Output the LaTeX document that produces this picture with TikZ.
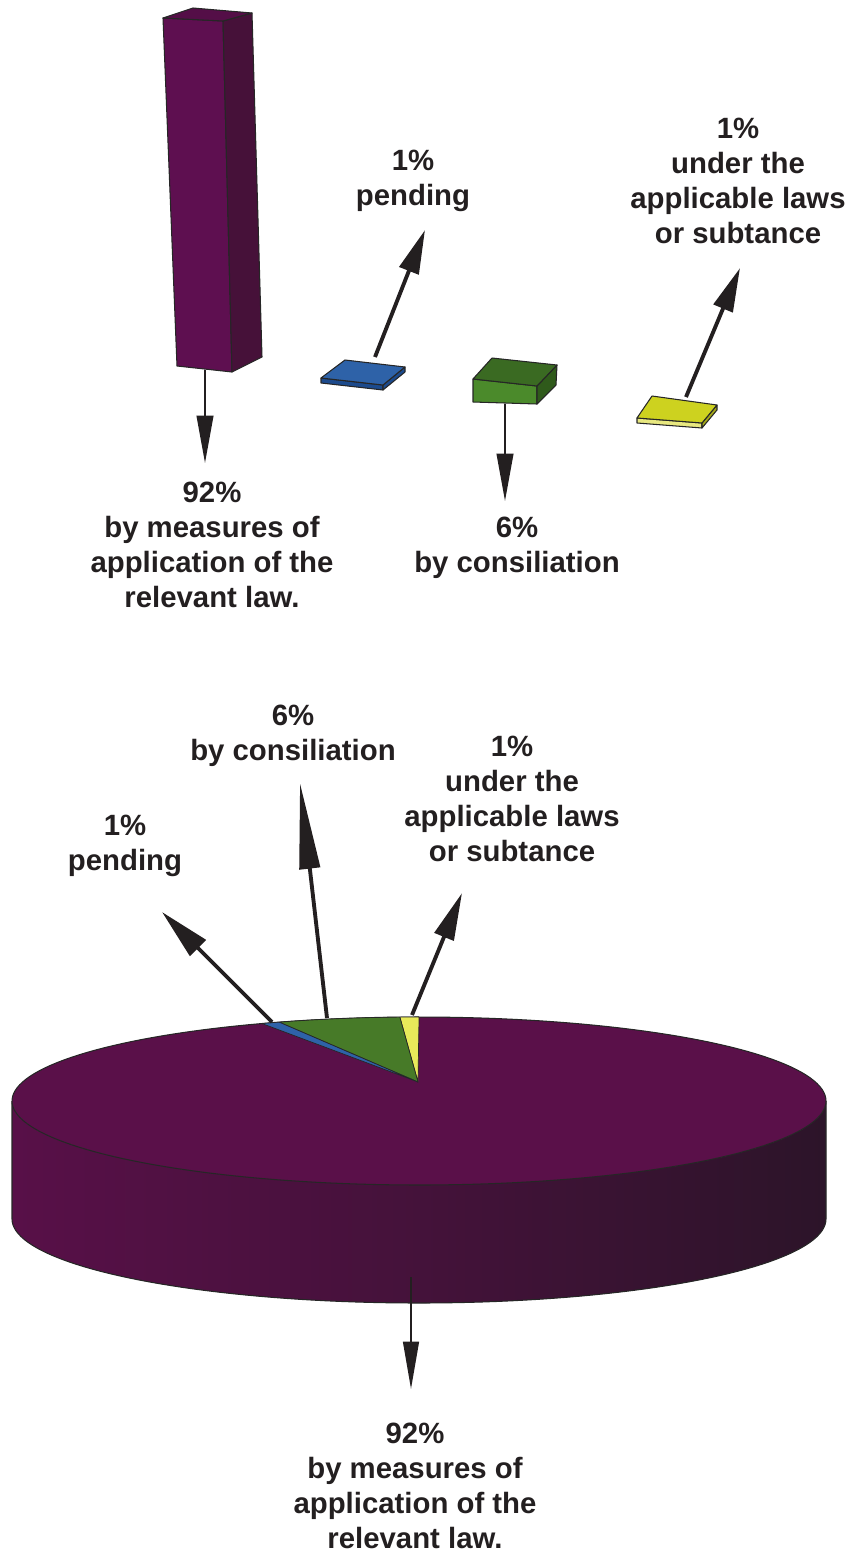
\documentclass[tikz,border=0pt]{standalone}
\usepackage{fontspec}
\setmainfont{Liberation Sans}
\usetikzlibrary{arrows.meta}
\definecolor{barfront}{RGB}{94, 15, 80}
\definecolor{barside}{RGB}{70, 17, 57}
\definecolor{bartop}{RGB}{84, 14, 71}
\definecolor{pietop}{RGB}{90, 16, 73}
\definecolor{pieleft}{RGB}{88, 16, 72}
\definecolor{pieright}{RGB}{44, 20, 41}
\definecolor{bluetop}{RGB}{46, 98, 168}
\definecolor{blueedge}{RGB}{28, 74, 140}
\definecolor{greentop}{RGB}{58, 106, 34}
\definecolor{greenfront}{RGB}{75, 138, 43}
\definecolor{greenside}{RGB}{47, 90, 27}
\definecolor{pieslgreen}{RGB}{71, 122, 40}
\definecolor{yellowtop}{RGB}{205, 210, 31}
\definecolor{yellowedge}{RGB}{232, 232, 128}
\definecolor{pieslyellow}{RGB}{232, 234, 90}
\definecolor{textgray}{RGB}{35, 31, 32}

\tikzset{
  lbl/.style={font=\bfseries\fontsize{16.7}{19.8}\selectfont, align=center, text=textgray, inner sep=0pt},
  thinarrow/.style={draw=textgray, line width=1.1pt, -{Triangle[length=27pt,width=9.5pt]}},
  thickarrow/.style={draw=textgray, line width=2.2pt, -{Triangle[length=25pt,width=11.5pt]}},
  face/.style={draw=black!85, line width=0.6pt, line join=round}
}

\begin{document}
\begin{tikzpicture}[x=0.02cm, y=-0.02cm,
  declare function={px(\t)=419+407*cos(\t); py(\t)=1101-84*sin(\t); qy(\t)=1219-84*sin(\t);}]
\useasboundingbox (0,0) rectangle (850,1552);

% bar chart
\filldraw[face, fill=barfront] (163,18) -- (223,21) -- (232,372) -- (177,366) -- cycle;
\filldraw[face, fill=barside] (223,21) -- (252,13) -- (262,357) -- (232,372) -- cycle;
\filldraw[face, fill=bartop] (163,18) -- (193,8) -- (252,13) -- (223,21) -- cycle;

\filldraw[face, fill=blueedge] (321,378) -- (383,385) -- (383,390) -- (321,383) -- cycle;
\filldraw[face, fill=blueedge] (383,385) -- (405,367) -- (405,372) -- (383,390) -- cycle;
\filldraw[face, fill=bluetop] (321,378) -- (345,360) -- (405,367) -- (383,385) -- cycle;

\filldraw[face, fill=greenfront] (473,379) -- (537,386) -- (537,404) -- (473,402) -- cycle;
\filldraw[face, fill=greenside] (537,386) -- (557,365) -- (556,385) -- (537,404) -- cycle;
\filldraw[face, fill=greentop] (473,379) -- (492,358) -- (557,365) -- (537,386) -- cycle;

\filldraw[face, fill=yellowedge] (637,418) -- (702,423) -- (702,428) -- (637,423) -- cycle;
\filldraw[face, fill=yellowtop!80!black] (702,423) -- (717,405) -- (717,410) -- (702,428) -- cycle;
\filldraw[face, fill=yellowtop] (637,418) -- (652,396) -- (717,405) -- (702,423) -- cycle;

\coordinate (barfoot) at (205,370);
\coordinate (bartip) at (205,463);
\coordinate (bluefoot) at (375,357);
\coordinate (bluetip) at (425,230);
\coordinate (greenfoot) at (505,404);
\coordinate (greentip) at (505,501);
\coordinate (yellowfoot) at (686,397);
\coordinate (yellowtip) at (740,268);

\draw[thinarrow] (barfoot) -- (bartip);
\draw[thickarrow] (bluefoot) -- (bluetip);
\draw[thinarrow] (greenfoot) -- (greentip);
\draw[thickarrow] (yellowfoot) -- (yellowtip);

\node[lbl] (barlbl) at (212,545) {92\%\\by measures of\\application of the\\relevant law.};
\node[lbl] (bluelbl) at (413,181) {1\%\\pending};
\node[lbl] (greenlbl) at (517,548) {6\%\\by consiliation};
\node[lbl] (yellowlbl) at (738,181) {1\%\\under the\\applicable laws\\or subtance};

% pie chart
\shade[left color=pieleft, right color=pieright, middle color=pieleft!55!pieright]
  plot[domain=180:360, samples=90] ({px(\x)},{py(\x)})
  -- plot[domain=360:180, samples=90] ({px(\x)},{qy(\x)}) -- cycle;
\draw[black!85, line width=0.6pt] ({px(180)},{py(180)})
  -- plot[domain=180:360, samples=90] ({px(\x)},{qy(\x)}) -- ({px(360)},{py(360)});
\filldraw[face, fill=pietop] plot[domain=0:360, samples=180] ({px(\x)},{py(\x)}) -- cycle;

\coordinate (pieapex) at (418,1082);
\filldraw[face, line width=0.4pt, fill=pieslyellow] (pieapex) -- plot[domain=90:92.7, samples=6] ({px(\x)},{py(\x)}) -- cycle;
\filldraw[face, line width=0.4pt, fill=pieslgreen] (pieapex) -- plot[domain=92.7:110.1, samples=20] ({px(\x)},{py(\x)}) -- cycle;
\filldraw[face, line width=0.4pt, fill=bluetop] (pieapex) -- plot[domain=110.1:112.7, samples=6] ({px(\x)},{py(\x)}) -- cycle;

\coordinate (pendfoot) at (272,1022);
\coordinate (pendtip) at (162,912);
\coordinate (consfoot) at (327,1018);
\coordinate (constip) at (300,783);
\coordinate (lawsfoot) at (412,1015);
\coordinate (lawstip) at (462,893);
\coordinate (mainfoot) at (411,1277);
\coordinate (maintip) at (411,1389);

\draw[thickarrow, -{Triangle[length=29pt,width=12.5pt]}] (pendfoot) -- (pendtip);
\draw[thickarrow, -{Triangle[length=49pt,width=11.5pt]}] (consfoot) -- (constip);
\draw[thickarrow, -{Triangle[length=27pt,width=11.5pt]}] (lawsfoot) -- (lawstip);
\draw[thinarrow, -{Triangle[length=27pt,width=9pt]}] (mainfoot) -- (maintip);

\node[lbl] (pendlbl) at (125,846) {1\%\\pending};
\node[lbl] (conslbl) at (293,736) {6\%\\by consiliation};
\node[lbl] (lawslbl) at (512,799) {1\%\\under the\\applicable laws\\or subtance};
\node[lbl] (mainlbl) at (415,1486) {92\%\\by measures of\\application of the\\relevant law.};
\end{tikzpicture}
\end{document}
